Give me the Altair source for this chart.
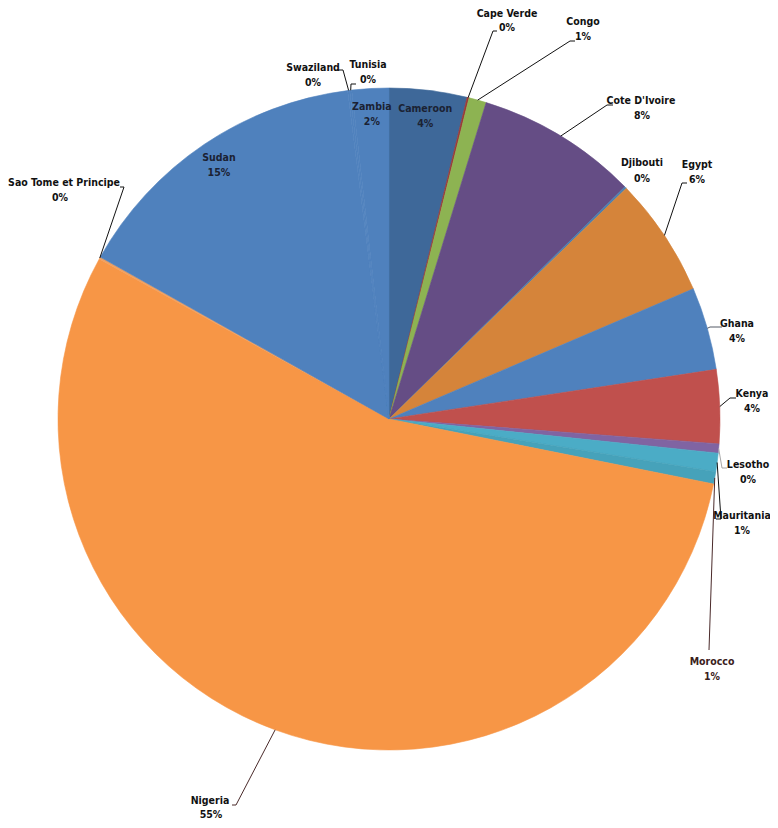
import math
import altair as alt
import pandas as pd

# ---- data (share of total) ----
countries = ["Cameroon", "Cape Verde", "Congo", "Cote D'Ivoire", "Djibouti", "Egypt",
             "Ghana", "Kenya", "Lesotho", "Mauritania", "Morocco", "Nigeria",
             "Sao Tome et Principe", "Sudan", "Swaziland", "Tunisia", "Zambia"]
values = [3.8, 0.1, 0.85, 7.9, 0.1, 5.85, 4.05, 3.6, 0.45, 0.9, 0.6, 55.0,
          0.1, 14.9, 0.1, 0.1, 1.8]
colors = ["#3E6899", "#9A3B38", "#8DB352", "#654D85", "#4B7FB0", "#D5843A",
          "#4F81BD", "#C0504D", "#8064A2", "#4BACC6", "#46A2BA", "#F79646",
          "#F0A060", "#4F81BD", "#4F81BD", "#4F81BD", "#4F81BD"]

# ---- layout (page pixels) ----
M = 8
CX, CY, R = 389 - M, 419 - M, 331
FS = 10.5
inside = {"Cameroon", "Sudan", "Zambia"}
# label centre (name line, pct line), leader elbow, leader end, leader colour
layout = {
    "Cape Verde": ((507, 14), (507, 28), (493, 31), (497, 31), "#111111"),
    "Congo": ((583, 22), (583, 37), (570, 41), (575, 41), "#111111"),
    "Cote D'Ivoire": ((641, 101), (642, 116), (607, 105), (613, 105), "#111111"),
    "Djibouti": ((642, 163), (642, 179), None, None, None),
    "Egypt": ((697, 165), (697, 180), (682, 183), (687, 183), "#111111"),
    "Ghana": ((737, 324), (737, 339), (710, 327), (722, 327), "#555a66"),
    "Kenya": ((752, 394), (752, 409), (730, 398), (736, 398), "#111111"),
    "Lesotho": ((748, 465), (748, 480), (722, 468), (727, 468), "#a6a6a6"),
    "Mauritania": ((742, 516), (742, 531), (721, 519), (716, 519), "#111111"),
    "Morocco": ((712, 662), (712, 677), (709, 650), (709, 650), "#4a2a2a"),
    "Nigeria": ((210, 801), (211, 815), (236, 805), (232, 805), "#4a2a2a"),
    "Sao Tome et Principe": ((64, 183), (60, 198), (124, 187), (120, 187), "#111111"),
    "Swaziland": ((313, 68), (313, 83), (343, 70), (338, 70), "#111111"),
    "Tunisia": ((368, 65), (368, 80), (351, 84), (356, 84), "#111111"),
}

total = sum(values)
slices = pd.DataFrame({"country": countries, "value": values,
                       "color": colors, "idx": range(len(countries))})

text_rows, line_rows = [], []
cum = 0.0
for name, v in zip(countries, values):
    a0 = cum / total * 360
    cum += v
    a1 = cum / total * 360
    mid = math.radians((a0 + a1) / 2)
    pct = f"{round(v / total * 100)}%"
    if name in inside:
        r = 0.92 * R
        x = CX + r * math.sin(mid)
        y = CY - r * math.cos(mid)
        text_rows.append({"x": x, "y": y - 8, "t": name, "c": "#1b2233"})
        text_rows.append({"x": x, "y": y + 7, "t": pct, "c": "#1b2233"})
        continue
    (nx, ny), (px, py), elbow, end, lc = layout[name]
    tc = "#3a2020" if name == "Morocco" else "#111111"
    text_rows.append({"x": nx - M, "y": ny - M, "t": name, "c": tc})
    text_rows.append({"x": px - M, "y": py - M, "t": pct, "c": tc})
    if elbow is not None:
        rx = CX + R * math.sin(mid)
        ry = CY - R * math.cos(mid)
        pts = [(rx, ry), (elbow[0] - M, elbow[1] - M), (end[0] - M, end[1] - M)]
        for k, (lx, ly) in enumerate(pts):
            line_rows.append({"country": name, "o": k, "x": lx, "y": ly, "lc": lc})

texts = pd.DataFrame(text_rows)
lines = pd.DataFrame(line_rows)

pie = alt.Chart(slices).mark_arc(radius=R, strokeWidth=0.6).encode(
    theta=alt.Theta("value:Q", stack=True),
    order=alt.Order("idx:Q"),
    color=alt.Color("color:N", scale=None),
    stroke=alt.Stroke("color:N", scale=None),
    x=alt.value(CX),
    y=alt.value(CY),
)

leaders = alt.Chart(lines).mark_line(strokeWidth=1).encode(
    x=alt.X("x:Q", scale=None, axis=None),
    y=alt.Y("y:Q", scale=None, axis=None),
    detail="country:N",
    order="o:Q",
    color=alt.Color("lc:N", scale=None),
)

labels = alt.Chart(texts).mark_text(
    font="DejaVu Sans Condensed, Roboto, sans-serif", fontWeight="bold", fontSize=FS,
    align="center", baseline="middle",
).encode(
    x=alt.X("x:Q", scale=None, axis=None),
    y=alt.Y("y:Q", scale=None, axis=None),
    text="t:N",
    color=alt.Color("c:N", scale=None),
)

chart = alt.layer(pie, leaders, labels).properties(
    width=762, height=812,
    autosize=alt.AutoSizeParams(type="none"),
    padding=0,
    background="white",
).configure_view(stroke=None)

chart.save("out.html", embed_options={"renderer": "svg", "actions": False})
